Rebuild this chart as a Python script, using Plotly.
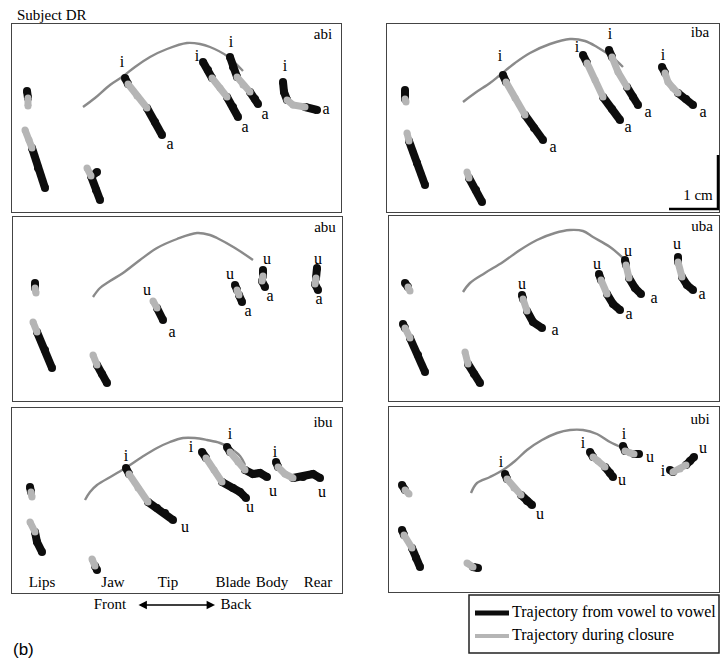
import plotly.graph_objects as go

W, H = 720, 663
SERIF = "Liberation Serif"
BLACK = "#0d0d0d"
GRAY = "#b5b5b5"
PALATE_COLOR = "#8a8a8a"

# ---------------- data (image coordinates) ----------------
# each trajectory: (onset vowel segment, closure segment, offset vowel segment)

ABI_PALATE = [(83,107),(95,98),(110,85),(122,77),(135,67),(150,57),(167,49),(187,43),(200,44),(210,47),(227,56),(243,71)]
ABI_TRAJ = [
    ([(27,91),(28,98)], [(28,98),(28,106)], []),
    ([], [(25,130),(29,140),(32,148)], [(32,148),(38,168),(45,188)]),
    ([(97,172),(92,176)], [(87,168),(91,176)], [(91,176),(96,190),(100,200)]),
    ([(125,78),(128,84)], [(128,84),(137,96),(147,108)], [(147,108),(155,122),(162,135)]),
    ([(203,62),(208,70),(212,78)], [(212,78),(220,88),(227,97)], [(227,97),(233,107),(238,117)]),
    ([(230,57),(233,67),(237,77)], [(237,77),(243,85),(250,92)], [(250,92),(255,99),(258,104)]),
    ([(283,82),(284,92),(287,100)], [(287,100),(293,105),(305,107)], [(305,107),(317,110)]),
]
ABI_LABELS = [("i",122,63),("a",170,145),("i",197,57),("a",245,128),("i",231,43),("a",265,115),("i",285,67),("a",326,110)]

IBA_PALATE = [(463,102),(475,93),(490,83),(500,75),(515,63),(530,53),(550,44),(570,39),(585,41),(597,47),(612,57),(623,67)]
IBA_TRAJ = [
    ([(405,90),(405,99)], [(405,99),(406,102)], []),
    ([], [(407,133),(409,141)], [(409,141),(417,163),(425,185)]),
    ([], [(467,172),(469,178)], [(469,178),(476,190),(482,202)]),
    ([(503,75),(506,82)], [(506,82),(515,98),(525,115)], [(525,115),(534,128),(543,140)]),
    ([(583,55),(587,63)], [(587,63),(595,80),(603,97)], [(603,97),(612,109),(620,120)]),
    ([(609,50),(612,57)], [(612,57),(618,72),(627,87)], [(627,87),(633,97),(638,105)]),
    ([(662,67),(665,73)], [(665,73),(668,82),(673,88),(678,93)], [(678,93),(686,99),(693,105)]),
]
IBA_LABELS = [("i",500,57),("a",553,148),("i",577,48),("a",628,128),("i",610,35),("a",648,113),("i",663,56),("a",703,113)]

ABU_PALATE = [(93,297),(100,288),(110,281),(123,273),(140,260),(157,248),(177,239),(197,233),(210,235),(217,238),(235,248),(253,260)]
ABU_TRAJ = [
    ([(35,283),(35,288)], [(35,288),(36,293)], []),
    ([], [(33,322),(37,332)], [(37,332),(45,350),(52,368)]),
    ([], [(93,355),(97,365)], [(97,365),(102,374),(107,383)]),
    ([], [(153,301),(157,308)], [(157,308),(163,320)]),
    ([(235,285),(237,290)], [(237,290),(239,295)], [(239,295),(242,302)]),
    ([(263,270),(263,276)], [(263,276),(262,281)], [(262,281),(265,287)]),
    ([(317,268),(316,278)], [(316,278),(315,284)], [(315,284),(318,290)]),
]
ABU_LABELS = [("u",147,291),("a",172,333),("u",230,275),("a",248,312),("u",267,260),("a",270,297),("u",318,260),("a",319,300)]

UBA_PALATE = [(463,292),(470,283),(485,273),(503,262),(520,250),(537,240),(555,233),(570,230),(583,231),(593,237),(610,247),(623,258)]
UBA_TRAJ = [
    ([(405,283),(408,287)], [(408,287),(410,291)], []),
    ([(403,324),(405,328)], [(405,328),(410,338)], [(410,338),(418,355),(425,372)]),
    ([], [(465,352),(468,364)], [(468,364),(474,374),(480,383)]),
    ([(522,295),(523,299)], [(523,299),(527,311)], [(527,311),(533,322),(542,328)]),
    ([(599,274),(601,280)], [(601,280),(607,294)], [(607,294),(613,304),(620,310)]),
    ([(625,260),(626,265)], [(626,265),(629,278)], [(629,278),(635,288),(641,294)]),
    ([(678,257),(678,262)], [(678,262),(682,277)], [(682,277),(687,285),(693,290)]),
]
UBA_LABELS = [("u",522,285),("a",555,331),("u",597,265),("a",629,315),("u",628,252),("a",654,299),("u",677,245),("a",702,295)]

IBU_PALATE = [(85,500),(90,492),(97,485),(112,476),(127,467),(142,457),(157,448),(170,442),(183,438),(195,438),(207,440),(220,443),(230,448),(240,456),(245,465)]
IBU_TRAJ = [
    ([(30,487),(31,492)], [(31,492),(32,497)], []),
    ([], [(30,522),(35,532)], [(35,532),(37,542),(42,552)]),
    ([], [(92,559),(95,566)], [(95,566),(97,570)]),
    ([(126,468),(129,474)], [(129,474),(138,488),(148,502)], [(148,502),(157,508),(165,513),(173,520)]),
    ([(202,452),(206,458)], [(206,458),(214,470),(222,482)], [(222,482),(233,488),(240,492),(246,498)]),
    ([(227,447),(230,452)], [(230,452),(238,462),(245,470)], [(245,470),(253,474),(260,473),(267,477)]),
    ([(276,462),(278,467)], [(278,467),(285,474),(293,478)], [(293,478),(303,477),(313,474),(320,478)]),
]
IBU_LABELS = [("i",126,457),("u",185,528),("i",191,448),("u",250,508),("i",230,435),("u",273,492),("i",275,453),("u",322,493)]

UBI_PALATE = [(471,493),(477,483),(490,477),(503,470),(515,461),(527,450),(542,440),(557,433),(570,430),(583,430),(597,434),(610,442),(623,448)]
UBI_TRAJ = [
    ([(402,485),(405,490)], [(405,490),(409,494)], []),
    ([(402,530),(404,535)], [(404,535),(412,548)], [(412,548),(416,558),(420,567)]),
    ([], [(467,563),(473,567)], [(473,567),(478,568)]),
    ([(505,474),(507,479)], [(507,479),(514,488),(521,495)], [(521,495),(527,501),(532,505)]),
    ([(590,452),(593,457)], [(593,457),(598,461),(605,467)], [(605,467),(610,473),(613,477)]),
    ([(623,446),(625,451)], [(625,451),(630,453),(634,454)], [(634,454),(639,454)]),
    ([(670,470),(673,472)], [(673,472),(680,469),(686,465)], [(686,465),(690,461),(694,457)]),
]
UBI_LABELS = [("i",501,463),("u",540,515),("i",583,444),("u",622,481),("i",624,435),("u",650,458),("i",663,472),("u",703,449)]

PANEL_NAMES = ["abi", "iba", "abu", "uba", "ibu", "ubi"]
PANEL_PALATES = [ABI_PALATE, IBA_PALATE, ABU_PALATE, UBA_PALATE, IBU_PALATE, UBI_PALATE]
PANEL_TRAJS = [ABI_TRAJ, IBA_TRAJ, ABU_TRAJ, UBA_TRAJ, IBU_TRAJ, UBI_TRAJ]
PANEL_LABELS = [ABI_LABELS, IBA_LABELS, ABU_LABELS, UBA_LABELS, IBU_LABELS, UBI_LABELS]

ARTICULATORS = ["Lips", "Jaw", "Tip", "Blade", "Body", "Rear"]
LEGEND_TEXT = ["Trajectory from vowel to vowel", "Trajectory during closure"]

# ---------------- layout geometry (pixels) ----------------
PANEL_BOX = [(12, 341, 24, 212), (387, 719, 24, 212),
             (13, 342, 217, 401), (389, 719, 216, 401),
             (12, 342, 408, 593), (389, 719, 407, 592)]
PANEL_NAME_POS = [(323, 35), (700, 33), (325, 228), (702, 227), (323, 423), (700, 420)]
ARTIC_POS_X = [42, 113, 168, 233, 272, 318]

fig = go.Figure()
layout = {}

for k in range(6):
    n = "" if k == 0 else str(k + 1)
    x0, x1, y0, y1 = PANEL_BOX[k]
    layout["xaxis" + n] = dict(domain=[x0 / W, x1 / W], range=[x0, x1], anchor="y" + n,
                               showline=True, mirror=True, linecolor="#444", linewidth=1,
                               showgrid=False, zeroline=False, showticklabels=False, ticks="", fixedrange=True)
    layout["yaxis" + n] = dict(domain=[1 - y1 / H, 1 - y0 / H], range=[y1, y0], anchor="x" + n,
                               showline=True, mirror=True, linecolor="#444", linewidth=1,
                               showgrid=False, zeroline=False, showticklabels=False, ticks="", fixedrange=True)
    xa, ya = "x" + n, "y" + n
    pal = PANEL_PALATES[k]
    fig.add_trace(go.Scatter(x=[p[0] for p in pal], y=[p[1] for p in pal], mode="lines",
                             line=dict(color=PALATE_COLOR, width=2.4, shape="spline"),
                             xaxis=xa, yaxis=ya, showlegend=False, hoverinfo="skip"))
    for on, cl, off in PANEL_TRAJS[k]:
        for seg, col, wd in ((on, BLACK, 8), (off, BLACK, 8), (cl, GRAY, 7)):
            if not seg:
                continue
            fig.add_trace(go.Scatter(x=[p[0] for p in seg], y=[p[1] for p in seg], mode="lines+markers",
                                     line=dict(color=col, width=wd), marker=dict(color=col, size=wd),
                                     xaxis=xa, yaxis=ya, showlegend=False, hoverinfo="skip"))
    labs = PANEL_LABELS[k]
    fig.add_trace(go.Scatter(x=[l[1] for l in labs], y=[l[2] for l in labs], text=[l[0] for l in labs],
                             mode="text", textfont=dict(family=SERIF, size=16, color="#000"),
                             xaxis=xa, yaxis=ya, showlegend=False, hoverinfo="skip"))
    fig.add_trace(go.Scatter(x=[PANEL_NAME_POS[k][0]], y=[PANEL_NAME_POS[k][1]], text=[PANEL_NAMES[k]],
                             mode="text", textfont=dict(family=SERIF, size=15, color="#000"),
                             xaxis=xa, yaxis=ya, showlegend=False, hoverinfo="skip"))

# overlay axis covering the full canvas for outside-panel decorations
layout["xaxis7"] = dict(domain=[0, 1], range=[0, W], anchor="y7", visible=False, fixedrange=True)
layout["yaxis7"] = dict(domain=[0, 1], range=[H, 0], anchor="x7", visible=False, fixedrange=True)

# articulator labels
fig.add_trace(go.Scatter(x=ARTIC_POS_X, y=[583] * 6, text=ARTICULATORS, mode="text",
                         textfont=dict(family=SERIF, size=15, color="#000"),
                         xaxis="x7", yaxis="y7", showlegend=False, hoverinfo="skip"))
fig.add_trace(go.Scatter(x=[110, 236], y=[605, 605], text=["Front", "Back"], mode="text",
                         textfont=dict(family=SERIF, size=15, color="#000"),
                         xaxis="x7", yaxis="y7", showlegend=False, hoverinfo="skip"))

# scale bar
fig.add_trace(go.Scatter(x=[718, 718, 669], y=[155, 209, 209], mode="lines",
                         line=dict(color="#000", width=2.5),
                         xaxis="x7", yaxis="y7", showlegend=False, hoverinfo="skip"))
fig.add_trace(go.Scatter(x=[698], y=[196], text=["1 cm"], mode="text",
                         textfont=dict(family=SERIF, size=15, color="#000"),
                         xaxis="x7", yaxis="y7", showlegend=False, hoverinfo="skip"))

# legend box
fig.add_trace(go.Scatter(x=[475, 509], y=[613, 613], mode="lines", line=dict(color=BLACK, width=5),
                         xaxis="x7", yaxis="y7", showlegend=False, hoverinfo="skip"))
fig.add_trace(go.Scatter(x=[475, 509], y=[636, 636], mode="lines", line=dict(color=GRAY, width=4),
                         xaxis="x7", yaxis="y7", showlegend=False, hoverinfo="skip"))
fig.add_trace(go.Scatter(x=[512, 512], y=[613, 636], text=LEGEND_TEXT, mode="text", textposition="middle right",
                         textfont=dict(family=SERIF, size=16, color="#000"),
                         xaxis="x7", yaxis="y7", showlegend=False, hoverinfo="skip"))

shapes = [dict(type="rect", xref="x7", yref="y7", x0=469, x1=719, y0=595, y1=653,
               line=dict(color="#222", width=1.5))]

annotations = [
    dict(x=15, y=15, xref="x7", yref="y7", text="Subject DR", showarrow=False, xanchor="left",
         font=dict(family=SERIF, size=15, color="#000")),
    dict(x=23, y=649, xref="x7", yref="y7", text="(b)", showarrow=False,
         font=dict(family="Liberation Sans", size=17, color="#000")),
    dict(x=215, y=605, ax=137, ay=605, xref="x7", yref="y7", axref="x7", ayref="y7", text="",
         showarrow=True, arrowside="end+start", arrowhead=2, arrowsize=1.2, arrowwidth=1.4, arrowcolor="#000"),
]

fig.update_layout(width=W, height=H, margin=dict(l=0, r=0, t=0, b=0),
                  paper_bgcolor="white", plot_bgcolor="rgba(0,0,0,0)",
                  shapes=shapes, annotations=annotations, **layout)

fig.write_html("out.html")
